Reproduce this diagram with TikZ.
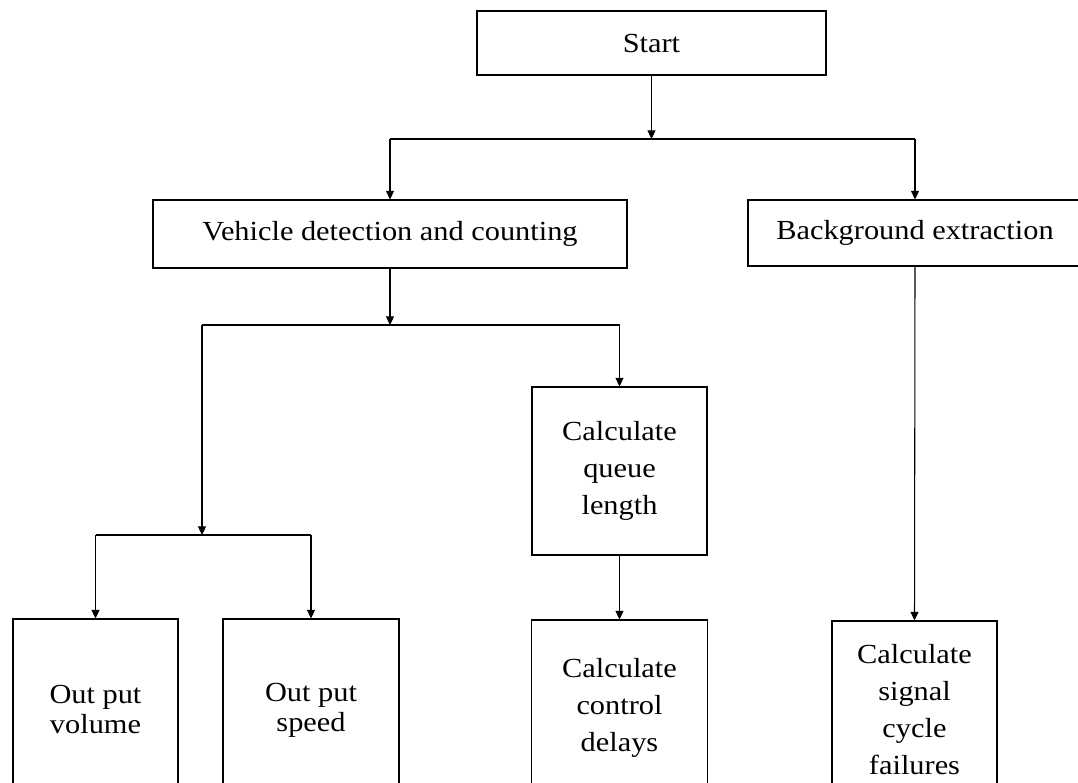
\documentclass[tikz,border=0pt]{standalone}
\usepackage{fontspec}
\setmainfont{Liberation Serif}[FakeStretch=1.1]
\usepackage{tikz}
\usetikzlibrary{arrows.meta}

\tikzset{
  box/.style={draw, line width=0.8pt, rectangle, align=center, inner sep=0pt,
    font=\fontsize{20.7}{27.75}\selectfont},
  outbox/.style={box, font=\fontsize{20.7}{22.5}\selectfont},
  flow/.style={line width=0.8pt}
}

\begin{document}
\begin{tikzpicture}[x=0.75pt, y=-0.75pt, >={Triangle[length=6.5pt, width=6pt]}]
  % Page frame (clips the boxes that run off the edges)
  \clip (0,0) rectangle (1078,782);

  % Top row
  \node[box, minimum width=349*0.75pt, minimum height=64*0.75pt] (start) at (651.5,43) {Start};

  % Second row
  \node[box, minimum width=474*0.75pt, minimum height=68*0.75pt] (vehicle) at (390,234) {Vehicle detection and counting};
  \node[box, minimum width=334*0.75pt, minimum height=66*0.75pt] (backgr) at (915,233) {Background extraction};

  % Queue length
  \node[box, minimum width=175*0.75pt, minimum height=168*0.75pt] (queue) at (619.5,471) {Calculate\\queue\\length};

  % Bottom row
  \node[outbox, minimum width=165*0.75pt, minimum height=180*0.75pt] (volume) at (95.5,709) {Out put\\volume};
  \node[outbox, minimum width=176*0.75pt, minimum height=182*0.75pt] (speed) at (311,710) {Out put\\speed};
  \node[box, minimum width=176*0.75pt, minimum height=176*0.75pt] (delay) at (619.5,708) {Calculate\\control\\delays};
  \node[box, minimum width=165*0.75pt, minimum height=178*0.75pt] (signal) at (914.5,710) {Calculate\\signal\\cycle\\failures};

  % Branch points
  \coordinate (split1) at (651.5,139);
  \coordinate (split2) at (390,325);
  \coordinate (left2) at (202,325);
  \coordinate (split3) at (202,535);

  % Start -> two tasks
  \draw[flow, ->] (start.south) -- (split1);
  \draw[flow] (vehicle.north |- split1) -- (backgr.north |- split1);
  \draw[flow, ->] (vehicle.north |- split1) -- (vehicle.north);
  \draw[flow, ->] (backgr.north |- split1) -- (backgr.north);

  % Vehicle detection branches
  \draw[flow, ->] (vehicle.south) -- (split2);
  \draw[flow] (left2) -- (queue.north |- split2);
  \draw[flow, ->] (queue.north |- split2) -- (queue.north);
  \draw[flow, ->] (left2) -- (split3);
  \draw[flow] (volume.north |- split3) -- (speed.north |- split3);
  \draw[flow, ->] (volume.north |- split3) -- (volume.north);
  \draw[flow, ->] (speed.north |- split3) -- (speed.north);

  % Queue -> delays
  \draw[flow, ->] (queue.south) -- (delay.north);

  % Background -> signal failures
  \draw[flow, ->] (backgr.south) -- (signal.north);
\end{tikzpicture}
\end{document}
